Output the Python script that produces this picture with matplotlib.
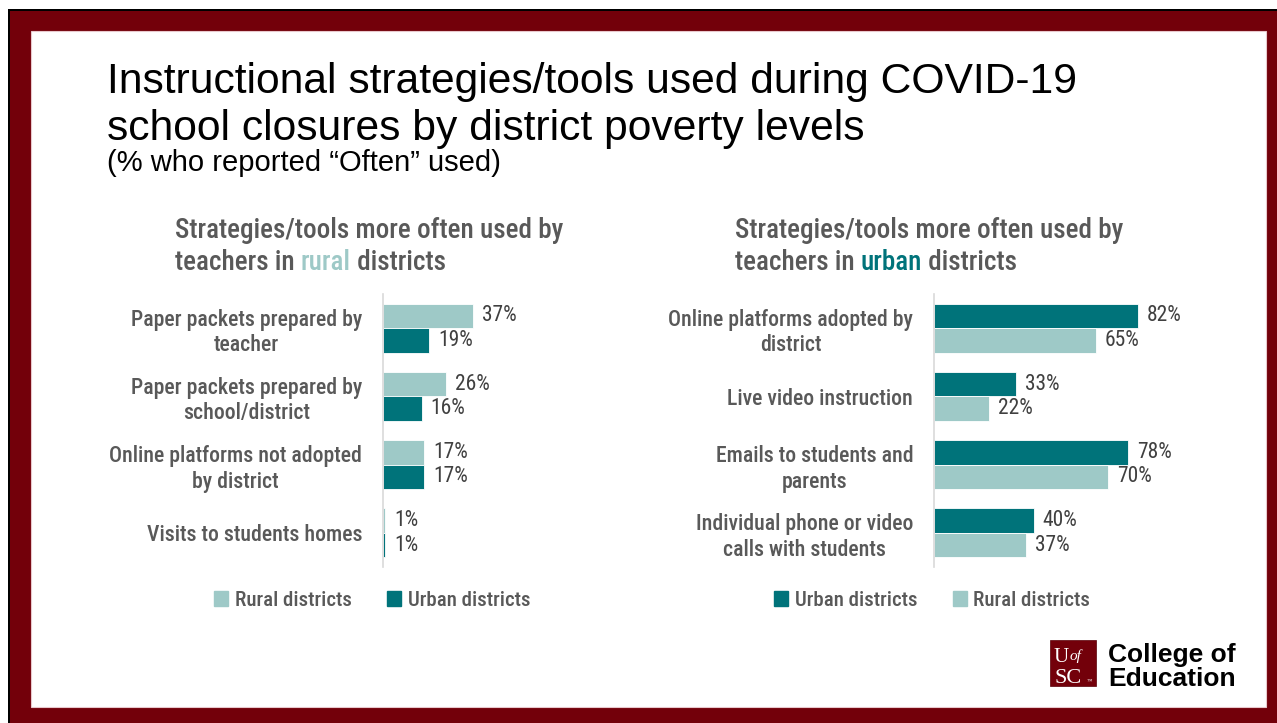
import matplotlib
matplotlib.use("Agg")
import matplotlib.pyplot as plt
from matplotlib import font_manager
from matplotlib.font_manager import FontProperties
from matplotlib.patches import Rectangle, Patch

W, H = 1277, 723

# --- data ---
rural_cats = ["Paper packets prepared by\nteacher",
              "Paper packets prepared by\nschool/district",
              "Online platforms not adopted\nby district",
              "Visits to students homes"]
rural_rural = [37, 26, 17, 1]
rural_urban = [19, 16, 17, 1]

urban_cats = ["Online platforms adopted by\ndistrict",
              "Live video instruction",
              "Emails to students and\nparents",
              "Individual phone or video\ncalls with students"]
urban_urban = [82, 33, 78, 40]
urban_rural = [65, 22, 70, 37]

LIGHT = "#9ec9c7"
DARK = "#00737a"
MAROON = "#73000a"
GREY = "#595959"
VAL = "#404040"
SANS = "Liberation Sans"


def find_font(keys):
    for key in keys:
        hits = [f.fname for f in font_manager.fontManager.ttflist if key in f.fname]
        if hits:
            return hits[0]
    return None


# narrow faces for the chart text, falling back to Roboto
medium_file = find_font(["RobotoCondensed-Medium", "LiberationSansNarrow-Regular",
                         "RobotoCondensed-Regular", "DejaVuSansCondensed."])
regular_file = find_font(["RobotoCondensed-Regular", "LiberationSansNarrow-Regular",
                          "DejaVuSansCondensed."]) or medium_file


def nfont(size, fname=None):
    fname = fname or medium_file
    if fname:
        return FontProperties(fname=fname, size=size)
    return FontProperties(family="Roboto", size=size)


fig = plt.figure(figsize=(W / 100, H / 100), dpi=100)
fig.patch.set_facecolor("white")


def fx(x):
    return x / W


def fy(y):
    return 1 - y / H


def frect(x0, y0, x1, y1, **kw):
    r = Rectangle((fx(x0), fy(y1)), fx(x1 - x0), fy(y0) - fy(y1), transform=fig.transFigure, **kw)
    fig.patches.append(r)
    return r


# frame
frect(8, 9, W, H, facecolor="black", edgecolor="none", zorder=-3)
frect(10, 11, W, H, facecolor=MAROON, edgecolor="none", zorder=-2)
frect(31, 31, 1266, 707, facecolor="white", edgecolor="#e8c8cc", linewidth=0.8, zorder=-1)

# titles
fig.text(fx(107), fy(93), "Instructional strategies/tools used during COVID-19",
         family=SANS, fontsize=30.7, color="black", va="baseline")
fig.text(fx(107), fy(140), "school closures by district poverty levels",
         family=SANS, fontsize=30.7, color="black", va="baseline")
fig.text(fx(107), fy(171), "(% who reported \u201cOften\u201d used)",
         family=SANS, fontsize=21, color="black", va="baseline")

renderer = fig.canvas.get_renderer()


def colored_line(x, y, parts, size):
    for txt, col in parts:
        t = fig.text(fx(x), fy(y), txt, fontproperties=nfont(size), color=col, va="baseline")
        x += t.get_window_extent(renderer).width


colored_line(175, 238, [("Strategies/tools more often used by", GREY)], 19.5)
colored_line(175, 270, [("teachers in ", GREY), ("rural", LIGHT), (" districts", GREY)], 19.5)
colored_line(735, 238, [("Strategies/tools more often used by", GREY)], 19.5)
colored_line(735, 270, [("teachers in ", GREY), ("urban", DARK), (" districts", GREY)], 19.5)


def panel(left_px, scale, cats, top_vals, top_col, bot_vals, bot_col):
    width_px = 100 * scale
    ax = fig.add_axes([fx(left_px), fy(567), width_px / W, (567 - 294) / H])
    pos = list(range(len(cats)))
    h = 0.358
    ax.barh([p - h / 2 for p in pos], top_vals, height=h, color=top_col,
            edgecolor="white", linewidth=0.6)
    ax.barh([p + h / 2 for p in pos], bot_vals, height=h, color=bot_col,
            edgecolor="white", linewidth=0.6)
    for p, v in zip(pos, top_vals):
        ax.annotate(f"{v}%", (v, p - h / 2), xytext=(6.5, 0), textcoords="offset points",
                    va="center", ha="left", fontproperties=nfont(15.5, regular_file), color=VAL)
    for p, v in zip(pos, bot_vals):
        ax.annotate(f"{v}%", (v, p + h / 2), xytext=(6.5, 0), textcoords="offset points",
                    va="center", ha="left", fontproperties=nfont(15.5, regular_file), color=VAL)
    ax.set_xlim(0, 100)
    ax.set_ylim(len(cats) - 0.5, -0.5)
    ax.set_yticks(pos)
    ax.set_yticklabels(cats, color=GREY)
    for lab in ax.get_yticklabels():
        lab.set_fontproperties(nfont(15.7))
        lab.set_multialignment("center")
        lab.set_linespacing(1.2)
    ax.tick_params(axis="y", length=0, pad=15)
    ax.set_xticks([])
    for s in ["top", "right", "bottom"]:
        ax.spines[s].set_visible(False)
    ax.spines["left"].set_color("#d9d9d9")
    ax.spines["left"].set_linewidth(1.2)
    ax.patch.set_alpha(0)
    return ax


ax1 = panel(383, 2.42, rural_cats, rural_rural, LIGHT, rural_urban, DARK)
ax2 = panel(934, 2.49, urban_cats, urban_urban, DARK, urban_rural, LIGHT)

# legends
leg_kw = dict(loc="center", ncol=2, frameon=False, handlelength=0.7, handleheight=0.7,
              handletextpad=0.3, columnspacing=1.7, bbox_transform=fig.transFigure,
              prop=nfont(15), labelcolor=GREY)
ax1.legend([Patch(color=LIGHT), Patch(color=DARK)], ["Rural districts", "Urban districts"],
           bbox_to_anchor=(fx(372), fy(600)), **leg_kw)
ax2.legend([Patch(color=DARK), Patch(color=LIGHT)], ["Urban districts", "Rural districts"],
           bbox_to_anchor=(fx(932), fy(600)), **leg_kw)

# logo
frect(1050, 640, 1096, 686, facecolor=MAROON, edgecolor="#5a0008", linewidth=0.5)
fig.text(fx(1054), fy(662), "U", family="Liberation Serif", fontsize=15, color="white", va="baseline")
fig.text(fx(1070), fy(660), "of", family="Liberation Serif", fontsize=11, style="italic",
         color="white", va="baseline")
fig.text(fx(1054), fy(683), "SC", family="Liberation Serif", fontsize=16, color="white", va="baseline")
fig.text(fx(1087), fy(683), "\u2122", family="Liberation Serif", fontsize=4, color="white", va="baseline")
fig.text(fx(1108), fy(662), "College of", family=SANS, fontsize=19, weight="bold",
         color="black", va="baseline")
fig.text(fx(1108), fy(686), "Education", family=SANS, fontsize=19, weight="bold",
         color="black", va="baseline")

fig.savefig("out.png", dpi=100)
